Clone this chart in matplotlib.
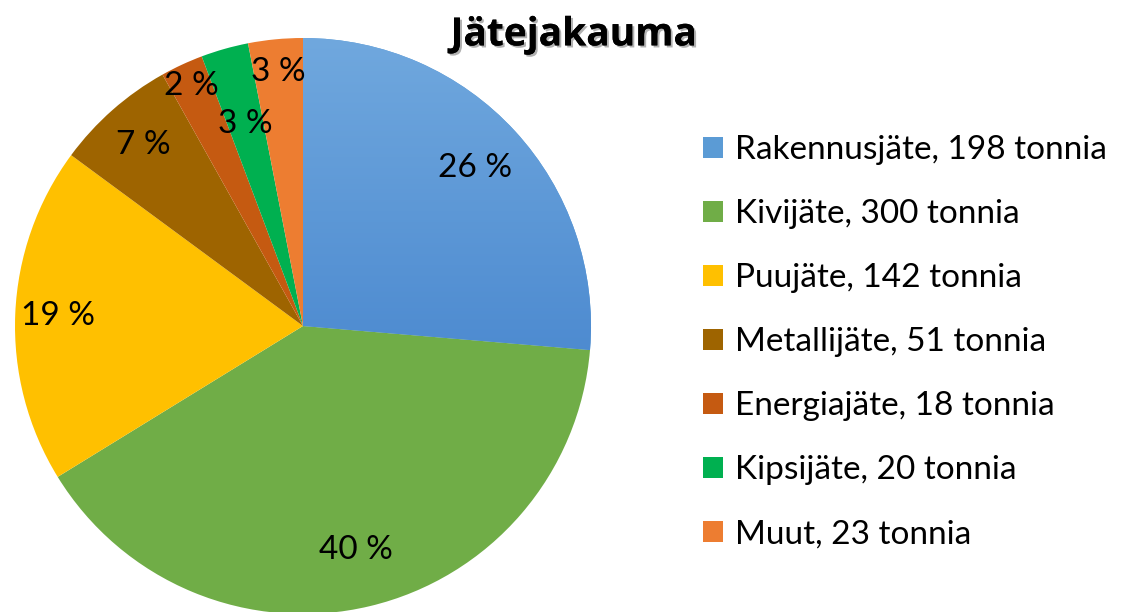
import numpy as np
import matplotlib.pyplot as plt
import matplotlib.patheffects as pe
from matplotlib.patches import Patch
from matplotlib.colors import LinearSegmentedColormap

plt.rcParams['font.family'] = ['Lato', 'DejaVu Sans']

labels = ['Rakennusjäte', 'Kivijäte', 'Puujäte', 'Metallijäte', 'Energiajäte', 'Kipsijäte', 'Muut']
tons = [198, 300, 142, 51, 18, 20, 23]
colors = ['#5B9BD5', '#70AD47', '#FFC000', '#9E6400', '#C55A11', '#00B050', '#ED7D31']
label_r = [0.81, 0.80, 0.85, 0.84, 0.92, 0.73, 0.885]

fig = plt.figure(figsize=(11.22, 6.12), dpi=100)
ax = fig.add_axes([15 / 1122, -2 / 612, 576 / 1122, 576 / 612])

wedges, _ = ax.pie(tons, colors=colors, startangle=90, counterclock=False,
                   radius=1, wedgeprops=dict(linewidth=0))
ax.set_aspect('equal')
ax.axis('off')

# gradient on the blue slice
grad = np.linspace(0, 1, 256).reshape(-1, 1)
cmap = LinearSegmentedColormap.from_list('b', ['#4A88CF', '#70A8DE'])
im = ax.imshow(grad, cmap=cmap, extent=[0, 1, -0.2, 1], origin='lower', aspect='auto', zorder=2)
im.set_clip_path(wedges[0])
ax.set_xlim(-1, 1)
ax.set_ylim(-1, 1)

total = sum(tons)
for w, r, v in zip(wedges, label_r, tons):
    ang = np.deg2rad((w.theta1 + w.theta2) / 2)
    ax.text(r * np.cos(ang), r * np.sin(ang), '%d %%' % round(100 * v / total),
            ha='center', va='center', fontsize=24, zorder=3)

fig.text(0.511, 0.943, 'Jätejakauma', ha='center', va='center', fontsize=28,
         fontweight='bold', family=['Open Sans', 'DejaVu Sans'],
         path_effects=[pe.withSimplePatchShadow(offset=(1.5, -1.5), alpha=0.3), pe.Normal()])

handles = [Patch(facecolor=c) for c in colors]
leg_labels = ['%s, %d tonnia' % (l, t) for l, t in zip(labels, tons)]
fig.legend(handles, leg_labels, loc='center left', bbox_to_anchor=(0.600, 0.441),
           frameon=False, fontsize=24, handlelength=0.6, handleheight=0.6,
           handletextpad=0.36, labelspacing=1.02)

fig.savefig('out.png', dpi=100)
